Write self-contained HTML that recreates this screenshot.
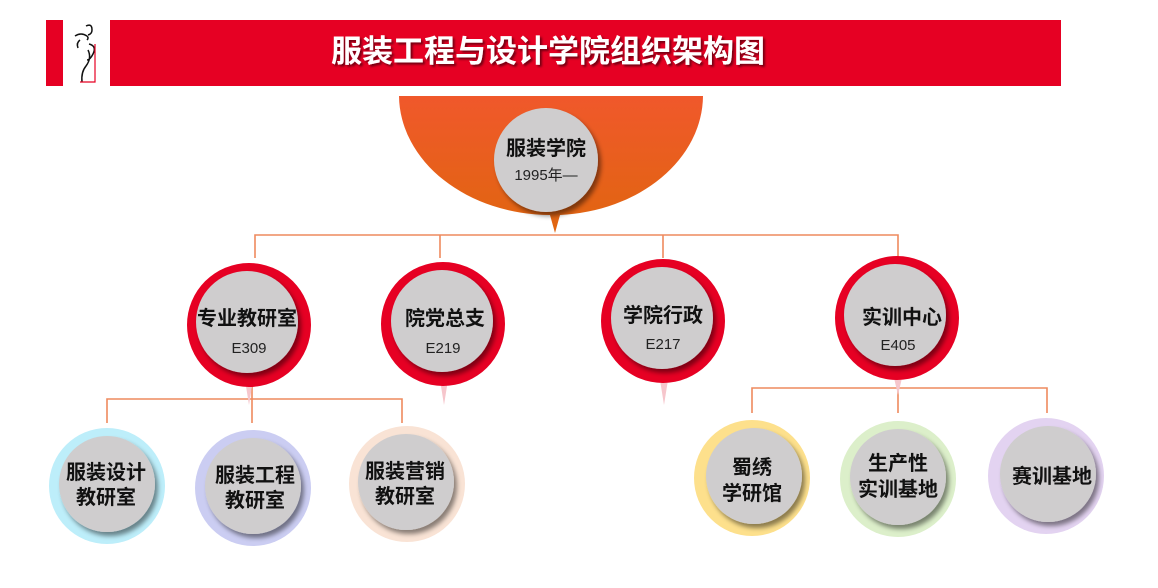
<!DOCTYPE html>
<html><head><meta charset="utf-8"><style>
html,body{margin:0;padding:0;background:#fff;width:1158px;height:588px;overflow:hidden}
svg{display:block}
text{font-family:"Liberation Sans","Noto Sans CJK SC",sans-serif}
.b{font-weight:bold;font-size:20px;fill:#111}
.s{font-size:15px;fill:#222}
</style></head><body>
<svg width="1158" height="588" viewBox="0 0 1158 588">
<defs>
<linearGradient id="og" x1="0" y1="0" x2="0" y2="1"><stop offset="0" stop-color="#f0582b"/><stop offset="1" stop-color="#e0660f"/></linearGradient>
<filter id="sh" x="-30%" y="-30%" width="160%" height="160%"><feDropShadow dx="3" dy="4" stdDeviation="2.5" flood-color="#000" flood-opacity="0.45"/></filter>
<filter id="ts"><feDropShadow dx="2" dy="2" stdDeviation="1" flood-color="#000" flood-opacity="0.5"/></filter>
</defs>
<!-- header -->
<rect x="46" y="20" width="17" height="66" fill="#e60023"/>
<rect x="110" y="20" width="951" height="66" fill="#e60023"/>
<path d="M86 26 q6 -3 6 4 q0 4 -4 5 M75 36 q6 -4 12 0 M87 36 q2 2 0 4 M80 40 q-4 3 -2 8 M89 44 q8 2 4 10 q-3 6 -6 6 M88 50 q4 8 -2 16 q-5 6 -4 16" stroke="#111" stroke-width="1.5" fill="none"/>
<path d="M95 44 V82 H80" stroke="#e60023" stroke-width="1.2" fill="none"/>
<text x="548" y="62" text-anchor="middle" font-size="31" font-weight="bold" fill="#fff" filter="url(#ts)">服装工程与设计学院组织架构图</text>
<!-- bowl -->
<path d="M399 96 H703 A152 120 0 0 1 560 215 L555 233 L550 215 A152 120 0 0 1 399 96 Z" fill="url(#og)"/>
<circle cx="546" cy="160" r="52" fill="#cfcdce" filter="url(#sh)"/>
<text x="546" y="155" text-anchor="middle" class="b">服装学院</text>
<text x="546" y="180" text-anchor="middle" class="s">1995年—</text>
<!-- connectors -->
<g stroke="#ee8a5e" stroke-width="1.6" fill="none">
<path d="M255 258 V235 H898 V258 M440 235 V258 M663 235 V258"/>
<path d="M107 423 V399 H402 V423 M252 385 V423"/>
<path d="M752 413 V388 H1047 V413 M898 380 V413"/>
</g>
<!-- level 2 -->
<g>
<path d="M245 380 L249 405 L253 380Z" fill="#f6c6cc"/>
<path d="M440 380 L444 405 L448 380Z" fill="#f6c6cc"/>
<path d="M660 380 L664 405 L668 380Z" fill="#f6c6cc"/>
<path d="M894 378 L898 395 L902 378Z" fill="#f6c6cc"/>
<circle cx="249" cy="325" r="62" fill="#e60023"/>
<circle cx="443" cy="324" r="62" fill="#e60023"/>
<circle cx="663" cy="321" r="62" fill="#e60023"/>
<circle cx="897" cy="318" r="62" fill="#e60023"/>
<circle cx="247" cy="322" r="51" fill="#cfcdce" filter="url(#sh)"/>
<circle cx="442" cy="321" r="51" fill="#cfcdce" filter="url(#sh)"/>
<circle cx="662" cy="318" r="51" fill="#cfcdce" filter="url(#sh)"/>
<circle cx="895" cy="315" r="51" fill="#cfcdce" filter="url(#sh)"/>
<text x="247" y="325" text-anchor="middle" class="b">专业教研室</text>
<text x="249" y="353" text-anchor="middle" class="s">E309</text>
<text x="445" y="325" text-anchor="middle" class="b">院党总支</text>
<text x="443" y="353" text-anchor="middle" class="s">E219</text>
<text x="663" y="322" text-anchor="middle" class="b">学院行政</text>
<text x="663" y="349" text-anchor="middle" class="s">E217</text>
<text x="902" y="324" text-anchor="middle" class="b">实训中心</text>
<text x="898" y="350" text-anchor="middle" class="s">E405</text>
</g>
<!-- level 3 -->
<g>
<circle cx="107" cy="486" r="58" fill="#bdeefa"/>
<circle cx="253" cy="488" r="58" fill="#cbcdf2"/>
<circle cx="407" cy="484" r="58" fill="#f9e3d5"/>
<circle cx="752" cy="478" r="58" fill="#fde08c"/>
<circle cx="898" cy="479" r="58" fill="#dcefca"/>
<circle cx="1046" cy="476" r="58" fill="#e3d3f1"/>
<circle cx="107" cy="484" r="48" fill="#cfcdce" filter="url(#sh)"/>
<circle cx="253" cy="486" r="48" fill="#cfcdce" filter="url(#sh)"/>
<circle cx="406" cy="482" r="48" fill="#cfcdce" filter="url(#sh)"/>
<circle cx="754" cy="476" r="48" fill="#cfcdce" filter="url(#sh)"/>
<circle cx="898" cy="477" r="48" fill="#cfcdce" filter="url(#sh)"/>
<circle cx="1048" cy="474" r="48" fill="#cfcdce" filter="url(#sh)"/>
<text x="106" y="479" text-anchor="middle" class="b">服装设计</text>
<text x="106" y="504" text-anchor="middle" class="b">教研室</text>
<text x="255" y="482" text-anchor="middle" class="b">服装工程</text>
<text x="255" y="507" text-anchor="middle" class="b">教研室</text>
<text x="405" y="478" text-anchor="middle" class="b">服装营销</text>
<text x="405" y="503" text-anchor="middle" class="b">教研室</text>
<text x="752" y="474" text-anchor="middle" class="b">蜀绣</text>
<text x="752" y="500" text-anchor="middle" class="b">学研馆</text>
<text x="898" y="470" text-anchor="middle" class="b">生产性</text>
<text x="898" y="496" text-anchor="middle" class="b">实训基地</text>
<text x="1052" y="483" text-anchor="middle" class="b">赛训基地</text>
</g>
</svg>
</body></html>
